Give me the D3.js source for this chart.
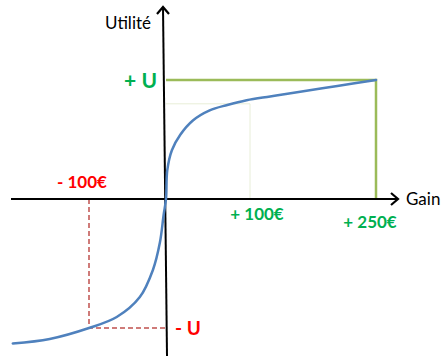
<!DOCTYPE html>
<html>
<head>
<meta charset="utf-8">
<script src="https://cdn.jsdelivr.net/npm/d3@7"></script>
<style>
  body { margin: 0; background: #fff; }
  text { font-family: Lato, "Open Sans", sans-serif; }
</style>
</head>
<body>
<div id="chart"></div>
<script>
// utility curve, gain in euros, utility in units of U
const curveGain = [-199, -151, -100, -64, -34, -17, -8, -3, 0, 1.5, 7, 17, 32, 52, 73, 96, 124, 156, 204, 250];
const curveUtil = [-1.12, -1.085, -1.0, -0.915, -0.76, -0.55, -0.34, -0.12, 0, 0.24, 0.41, 0.54, 0.66, 0.745, 0.79, 0.83, 0.862, 0.897, 0.95, 1.0];

// faint guide drawn at +100€
const guideGain = 100;
const guideUtil = 0.80;

const gainLabels = [
    {gain: 100, text: "+ 100€"},
    {gain: 250, text: "+ 250€"},
    {gain: -100, text: "- 100€"}
];
const utilLabels = ["+ U", "- U"];

const width = 441, height = 358;
const blue = "#4f81bd", green = "#9bbb59", red = "#c0504d";

const svg = d3.select("#chart")
    .append("svg")
        .attr("width", width)
        .attr("height", height);

// hand drawn diagram: the two halves are not quite on the same scale
const x = d3.scaleLinear().domain([-100, 0, 250]).range([89, 166, 376]);
const y = d3.scaleLinear().domain([-1, 0, 1]).range([328, 199, 80]);

const data = curveGain.map((g, i) => ({gain: g, util: curveUtil[i]}));

// pale guide lines at +100
svg.append("path")
    .attr("fill", "none")
    .attr("stroke", "#e8eed8")
    .attr("stroke-width", 1)
    .attr("d", `M${x(0)},${y(guideUtil)}H${x(guideGain)}V${y(0)}`);

// green box at +250 / +U
svg.append("path")
    .attr("fill", "none")
    .attr("stroke", green)
    .attr("stroke-width", 2.5)
    .attr("d", `M${x(0)},${y(1)}H${x(250)}V${y(0)}`);

// red dashed lines at -100 / -U
svg.append("path")
    .attr("fill", "none")
    .attr("stroke", red)
    .attr("stroke-width", 1.5)
    .attr("stroke-dasharray", "5,3")
    .attr("d", `M${x(-100)},${y(0)}V${y(-1)}H${x(0)}`);

// axes
const axisG = svg.append("g")
    .attr("stroke", "#000")
    .attr("stroke-width", 2)
    .attr("fill", "none");

axisG.append("line")
    .attr("x1", 11).attr("y1", y(0))
    .attr("x2", 398).attr("y2", y(0));
axisG.append("path")
    .attr("stroke-width", 2.2)
    .attr("d", `M391,${y(0) - 6}L398,${y(0)}L391,${y(0) + 6}`);

axisG.append("line")
    .attr("x1", x(0) - 3).attr("y1", 7)
    .attr("x2", x(0) + 1).attr("y2", 356);
axisG.append("path")
    .attr("stroke-width", 2.2)
    .attr("d", `M${x(0) - 9},14L${x(0) - 3},7L${x(0) + 3},14`);

// utility curve
svg.append("path")
    .datum(data)
    .attr("fill", "none")
    .attr("stroke", blue)
    .attr("stroke-width", 2.5)
    .attr("stroke-linecap", "round")
    .attr("d", d3.line()
        .x(d => x(d.gain))
        .y(d => y(d.util))
        .curve(d3.curveCatmullRom.alpha(0.5)));

// labels
svg.append("text")
    .attr("x", 151).attr("y", 29)
    .attr("text-anchor", "end")
    .style("font-size", "17px")
    .style("fill", "#000")
    .text("Utilité");

svg.append("text")
    .attr("x", 406).attr("y", 205)
    .style("font-size", "17px")
    .style("fill", "#000")
    .text("Gain");

const labelY = {"100": 220, "250": 228, "-100": 188};
const labelDx = {"100": 7, "250": -6, "-100": -7};
svg.selectAll(".gain-label")
    .data(gainLabels)
    .enter().append("text")
        .attr("class", "gain-label")
        .attr("x", d => x(d.gain) + labelDx[d.gain])
        .attr("y", d => labelY[d.gain])
        .attr("text-anchor", "middle")
        .style("font-size", "17px")
        .style("font-weight", "bold")
        .style("fill", d => d.gain > 0 ? "#00b050" : "#ff0000")
        .text(d => d.text);

svg.append("text")
    .attr("x", 157).attr("y", y(1) + 8)
    .attr("text-anchor", "end")
    .style("font-size", "21px")
    .style("font-weight", "bold")
    .style("fill", "#00b050")
    .text(utilLabels[0]);

svg.append("text")
    .attr("x", 175).attr("y", y(-1) + 7)
    .style("font-size", "19px")
    .style("font-weight", "bold")
    .style("fill", "#ff0000")
    .text(utilLabels[1]);
</script>
</body>
</html>
